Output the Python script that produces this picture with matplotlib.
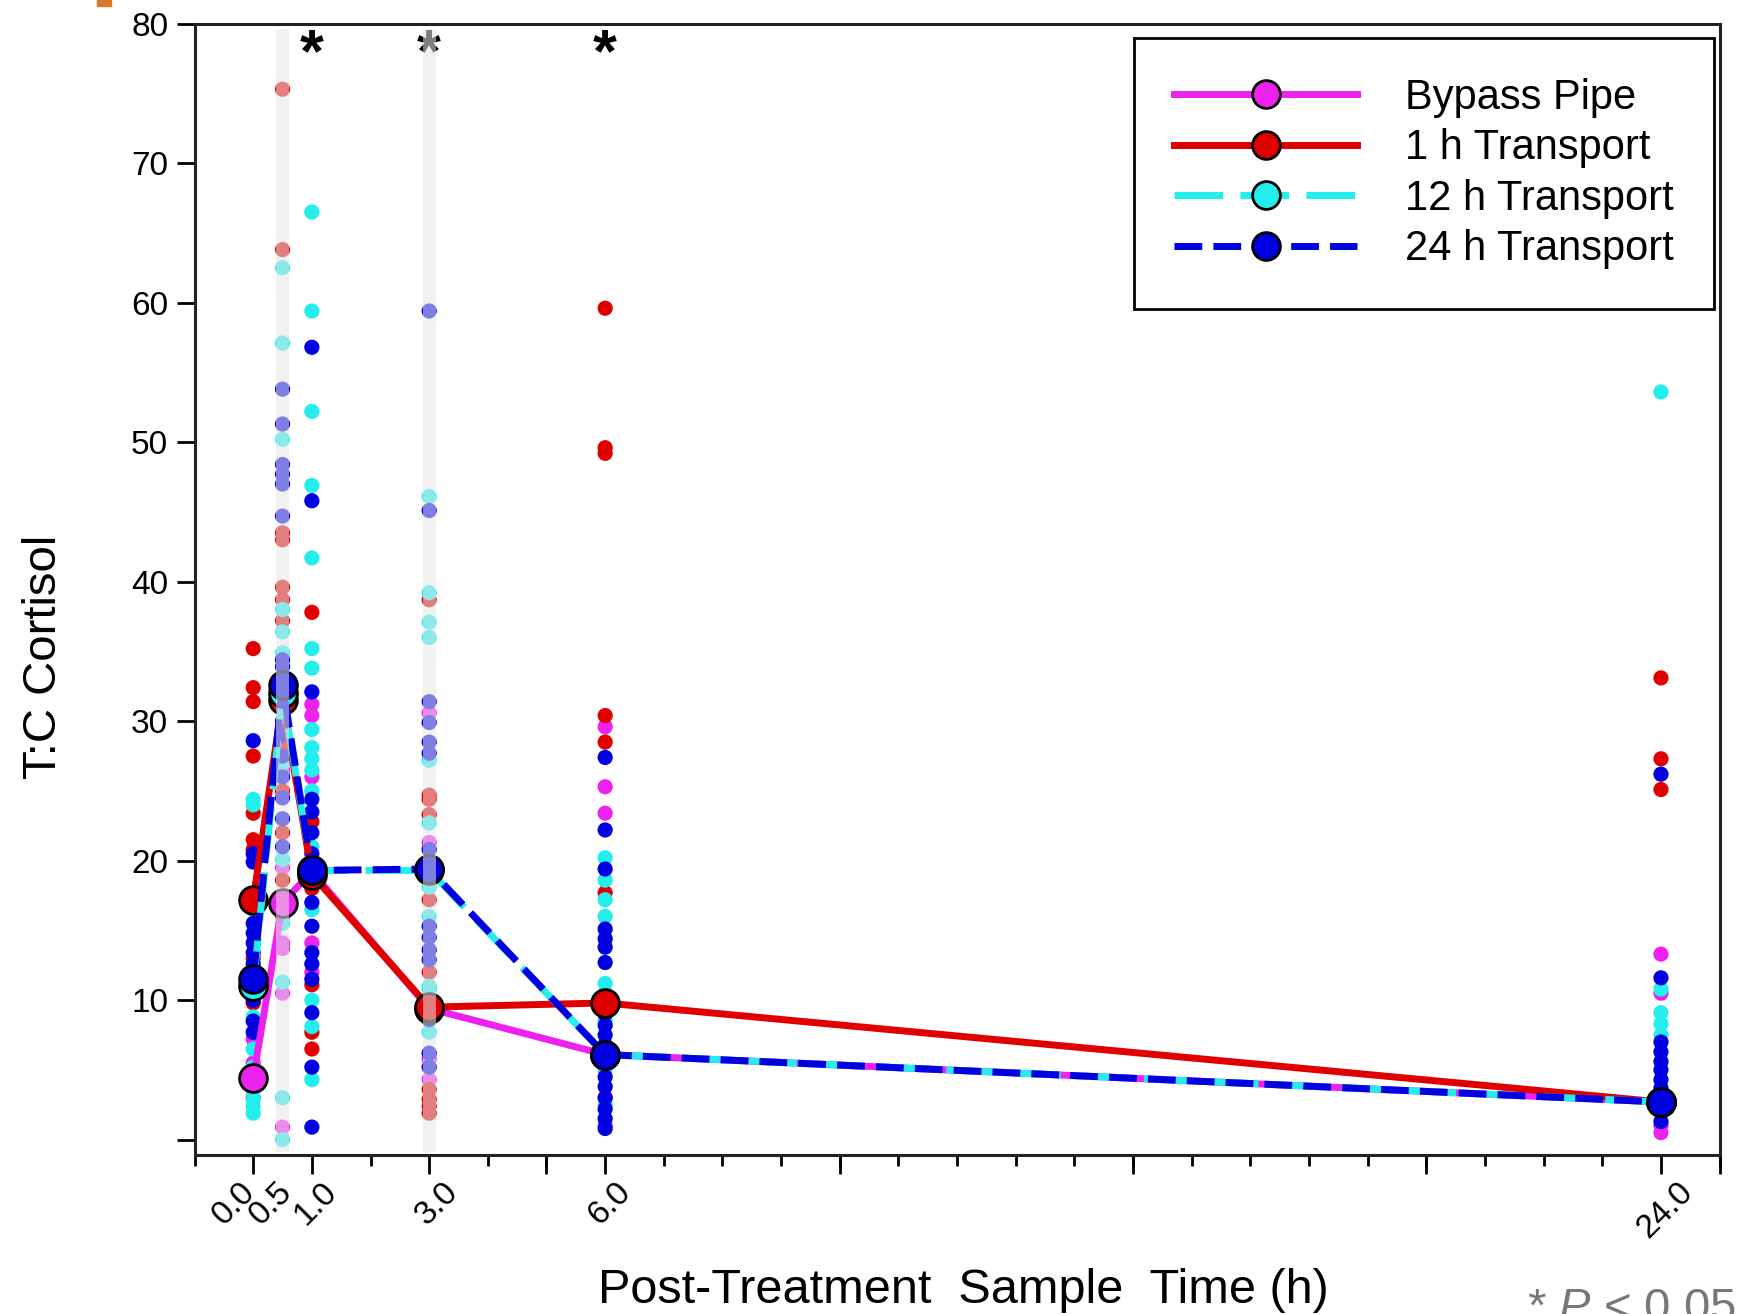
"""T:C cortisol ratio after treatment, per transport group, with individual fish values."""

import matplotlib

matplotlib.use("Agg")
import matplotlib.pyplot as plt
from matplotlib.patches import Rectangle
from matplotlib.transforms import ScaledTranslation

plt.rcParams["font.family"] = ["Liberation Sans", "DejaVu Sans"]
plt.rcParams["mathtext.fontset"] = "custom"
plt.rcParams["mathtext.rm"] = "Liberation Sans"
plt.rcParams["mathtext.it"] = "Liberation Sans:italic"

TIMES = [0.0, 0.5, 1.0, 3.0, 6.0, 24.0]
TIME_LABELS = ["0.0", "0.5", "1.0", "3.0", "6.0", "24.0"]
LABEL_DX = [-14, -8, 3, 6, 3, 3]  # pt nudges of rotated tick labels

SIG_TIMES = [1.0, 3.0, 6.0]
SHADED_TIMES = [0.5, 3.0]

# group means at each sample time
BYPASS_MEAN = [4.4, 17.0, 19.2, 9.4, 6.1, 2.7]
T1_MEAN = [17.2, 31.5, 19.0, 9.5, 9.8, 2.7]
T12_MEAN = [11.0, 32.0, 19.3, 19.3, 6.1, 2.7]
T24_MEAN = [11.5, 32.6, 19.3, 19.4, 6.1, 2.7]

# individual values, one list per sample time
BYPASS_DOTS = [
    [7.2, 3.0, 5.5],
    [14.1, 13.7, 10.5, 0.9, 26.5, 19.5, 16.0],
    [31.2, 30.4, 26.0, 14.1, 20.0, 12.0],
    [30.6, 21.3, 4.3, 5.8],
    [29.6, 25.3, 23.4, 1.0, 3.0],
    [13.3, 10.5, 0.5, 1.0],
]
T1_DOTS = [
    [35.2, 32.4, 31.4, 27.5, 23.4, 21.5, 20.8, 13.0, 9.8],
    [75.3, 63.8, 43.5, 43.0, 39.6, 38.7, 37.2, 28.0, 25.0, 22.0, 18.6],
    [37.8, 22.8, 18.0, 11.1, 7.7, 6.5],
    [38.7, 24.7, 24.4, 23.3, 17.2, 12.0, 3.6, 2.9, 2.4, 1.9],
    [59.6, 49.6, 49.2, 30.4, 28.5, 17.7, 10.0],
    [33.1, 27.3, 25.1],
]
T12_DOTS = [
    [24.4, 24.0, 16.5, 8.8, 6.5, 5.2, 3.5, 2.9, 2.4, 1.9],
    [62.5, 57.1, 50.2, 38.0, 36.4, 34.9, 31.0, 27.0, 20.1, 15.5, 11.3, 3.0, 0.0],
    [66.5, 59.4, 52.2, 46.9, 41.7, 35.2, 33.8, 29.4, 28.1, 27.3, 26.5, 25.0,
     21.0, 16.5, 10.0, 8.1, 4.3],
    [46.1, 39.2, 37.1, 36.0, 27.2, 22.7, 18.1, 16.0, 11.0, 10.8, 10.0, 7.7],
    [20.2, 18.6, 17.2, 16.0, 11.2, 10.5, 8.5, 5.0, 2.5],
    [53.6, 10.8, 9.1, 8.3, 7.5],
]
T24_DOTS = [
    [28.6, 20.5, 19.9, 15.5, 14.8, 14.1, 13.4, 12.6, 10.0, 8.5, 7.7],
    [53.8, 51.3, 48.4, 47.7, 47.0, 44.7, 34.4, 33.9, 30.0, 29.0, 27.5, 26.0,
     24.5, 23.0, 21.0],
    [56.8, 45.8, 32.1, 24.4, 23.5, 22.0, 20.5, 17.0, 15.3, 13.4, 12.6, 11.5,
     9.1, 5.2, 0.9],
    [59.4, 45.1, 31.4, 29.9, 28.5, 27.7, 20.8, 20.0, 15.3, 14.5, 13.6, 12.9,
     8.6, 6.2, 5.2],
    [27.4, 22.2, 19.4, 15.1, 14.4, 13.8, 12.7, 9.0, 8.2, 7.5, 6.8, 5.5, 4.5,
     3.8, 3.0, 2.2, 1.5, 0.8],
    [26.2, 11.6, 7.0, 6.3, 5.6, 5.0, 4.3, 3.7, 2.0, 1.3],
]

# (legend label, colour, dash pattern or None for solid, means, dots)
GROUPS = (
    ("Bypass Pipe", "#ee22ee", None, BYPASS_MEAN, BYPASS_DOTS),
    ("1 h Transport", "#e00000", None, T1_MEAN, T1_DOTS),
    ("12 h Transport", "#22eeee", (7, 2.5), T12_MEAN, T12_DOTS),
    ("24 h Transport", "#0000e0", (4, 1.6), T24_MEAN, T24_DOTS),
)

fig = plt.figure(figsize=(17.37, 13.14), dpi=100)
ax = fig.add_axes([0.112, 0.121, 0.878, 0.861])

for label, color, dashes, means, dots in GROUPS:
    for t, values in zip(TIMES, dots):
        ax.scatter([t] * len(values), values, s=120, color=color,
                   edgecolors="none", zorder=2)

for label, color, dashes, means, dots in GROUPS:
    kw = {"dashes": dashes} if dashes else {"linestyle": "-"}
    ax.plot(TIMES, means, color=color, lw=5, marker="o", markersize=20,
            markerfacecolor=color, markeredgecolor="black",
            markeredgewidth=2, label=label, zorder=3, **kw)

for t in SIG_TIMES:
    ax.text(t, 76.6, "*", ha="center", va="baseline", fontsize=44,
            fontweight="bold", zorder=5)

# pale bars over the 0.5 h and 3 h columns (drawn on top, washes marks out)
for t in SHADED_TIMES:
    ax.axvspan(t - 0.11, t + 0.11, ymin=0.003, ymax=0.995,
               facecolor="#e6e6e6", edgecolor="none", alpha=0.55, zorder=6)

ax.set_xlim(-1, 25)
ax.set_ylim(-1.1, 80)

ax.set_yticks(range(0, 81, 10), [""] + [str(v) for v in range(10, 81, 10)])
ax.tick_params(axis="y", length=13, width=2, pad=6, labelsize=24)

ax.set_xticks(TIMES, TIME_LABELS, rotation=45)
ax.set_xticks(range(-1, 26), minor=True)
ax.tick_params(axis="x", which="major", length=14, width=2, pad=1.5,
               labelsize=24)
ax.tick_params(axis="x", which="minor", length=8, width=2)
ax.xaxis.get_major_ticks()[1].tick1line.set_visible(False)
for tick_label, dx in zip(ax.get_xticklabels(), LABEL_DX):
    tick_label.set_transform(tick_label.get_transform()
                             + ScaledTranslation(dx / 72, 0, fig.dpi_scale_trans))

sec = ax.secondary_xaxis("bottom")
sec.set_xticks([5, 10, 15, 20, 25], [""] * 5)
sec.tick_params(length=14, width=2)
sec.spines["bottom"].set_visible(False)

for spine in ax.spines.values():
    spine.set_linewidth(2.2)
    spine.set_color("#222222")

ax.set_ylabel("T:C Cortisol", fontsize=34)
ax.yaxis.set_label_coords(-0.084, 0.44)
ax.set_xlabel("Post-Treatment  Sample  Time (h)", fontsize=35, va="top")
ax.xaxis.set_label_coords(0.504, -0.100)

legend = ax.legend(loc="upper right", bbox_to_anchor=(0.996, 0.987),
                   borderaxespad=0, numpoints=1, fontsize=30,
                   handlelength=4.4, handletextpad=1.15, borderpad=0.95,
                   labelspacing=0.25, fancybox=False, framealpha=1,
                   edgecolor="black")
legend.get_frame().set_linewidth(2)
legend.set_zorder(10)

fig.text(1527 / 1737, 1 - 1287 / 1314, r"* $\mathit{P}$ < 0.05",
         fontsize=34, color="#777777", ha="left", va="top")
fig.patches.append(Rectangle((97 / 1737, 1 - 6 / 1314), 14 / 1737, 6 / 1314,
                             transform=fig.transFigure, color="#d9772b"))

fig.savefig("out.png", dpi=100)
